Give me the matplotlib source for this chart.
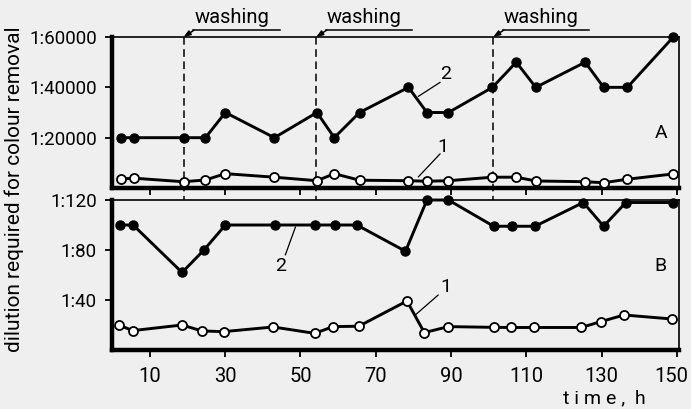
import matplotlib
matplotlib.use("Agg")
import matplotlib.pyplot as plt
import matplotlib.transforms as mtransforms

plt.rcParams['font.family'] = ['Roboto', 'DejaVu Sans']

# ---- data ----
hours_A = [2.3, 5.8, 19.0, 24.8, 30.1, 43.1, 54.4, 59.0, 65.7, 78.7, 83.6, 89.3,
           101.0, 107.3, 112.5, 125.6, 130.5, 136.8, 149.0]
A_curve2 = [20000, 20000, 20000, 20000, 30000, 20000, 30000, 20000, 30000, 40000,
            30000, 30000, 40000, 50000, 40000, 50000, 40000, 40000, 60000]
A_curve1 = [3600, 3900, 2500, 3200, 5700, 4300, 2900, 5700, 3100, 2900, 2700,
            2900, 4300, 4300, 2800, 2500, 2100, 3500, 5600]

hours_B = [2.1, 5.6, 18.6, 24.4, 30.1, 43.2, 53.8, 59.3, 65.0, 77.9, 83.6, 89.3,
           101.3, 106.2, 112.3, 125.1, 130.5, 136.4, 149.0]
B_curve2 = [100, 100, 62, 80, 100, 100, 100, 100, 100, 79, 120, 120, 99, 99, 99,
            118, 99, 118, 118]
hours_B1 = [1.8, 5.5, 18.6, 23.9, 29.7, 42.8, 53.8, 58.7, 65.5, 78.3, 82.9, 89.3,
            101.5, 106.0, 112.1, 124.5, 129.8, 135.9, 148.6]
B_curve1 = [20, 15.5, 20, 15.2, 14.7, 18.4, 13.3, 18.7, 19, 39.2, 13.9, 18.7, 18.1,
            18, 18, 18, 22.7, 28, 24.8]

washing_h = [19.0, 54.2, 101.2]
x_ticks = [10, 30, 50, 70, 90, 110, 130, 150]
A_ticks = [20000, 40000, 60000]
A_ticklabels = ['1:20000', '1:40000', '1:60000']
B_ticks = [40, 80, 120]
B_ticklabels = ['1:40', '1:80', '1:120']

BG = '#efefef'
fig = plt.figure(figsize=(6.91, 4.09), dpi=100, facecolor=BG)
axA = fig.add_axes([0.1621, 0.5403, 0.8205, 0.3692])
axB = fig.add_axes([0.1621, 0.1443, 0.8205, 0.3667])

FS = 13.5
for ax in (axA, axB):
    ax.set_facecolor(BG)
    ax.set_xlim(0, 150.5)
    ax.set_xticks(x_ticks)
    for s in ('left', 'bottom'):
        ax.spines[s].set_linewidth(3.2)
    for s in ('top', 'right'):
        ax.spines[s].set_linewidth(1.2)
    ax.tick_params(axis='both', direction='out', length=5, width=1.3,
                   labelsize=FS, pad=6)
    ax.tick_params(axis='x', labelsize=14.5, pad=7)

lw = 2.1
msz = 6.5
# panel A
axA.plot(hours_A, A_curve2, '-o', color='black', lw=lw, ms=msz, clip_on=False, zorder=3)
axA.plot(hours_A, A_curve1, '-o', color='black', lw=lw, ms=msz, mfc='white',
         mec='black', mew=1.3, clip_on=False, zorder=3)
axA.set_ylim(0, 60000)
axA.set_yticks(A_ticks)
axA.set_yticklabels(A_ticklabels)
axA.tick_params(axis='x', labelbottom=False)

# panel B
axB.plot(hours_B, B_curve2, '-o', color='black', lw=lw, ms=msz, clip_on=False, zorder=3)
axB.plot(hours_B1, B_curve1, '-o', color='black', lw=lw, ms=msz, mfc='white',
         mec='black', mew=1.3, clip_on=False, zorder=3)
axB.set_ylim(0, 120)
axB.set_yticks(B_ticks)
axB.set_yticklabels(B_ticklabels)
axB.set_xticklabels([str(t) for t in x_ticks])
last = axB.get_xticklabels()[-1]
last.set_transform(last.get_transform() +
                   mtransforms.ScaledTranslation(-6 / 100, 0, fig.dpi_scale_trans))

# washing lines
trA = mtransforms.blended_transform_factory(axA.transData, axA.transAxes)
bottom_frac = -(350 - 188) / 151.0
for w in washing_h:
    axA.plot([w, w], [1.0, bottom_frac], transform=trA, color='black', lw=1.1,
             ls=(0, (5, 3)), clip_on=False, zorder=2)
    axA.plot([w + 2.6, w + 25.5], [1.046, 1.046], transform=trA, color='black',
             lw=1.1, clip_on=False)
    axA.annotate('', xy=(w, 1.0), xycoords=trA, xytext=(w + 2.8, 1.046),
                 textcoords=trA,
                 arrowprops=dict(arrowstyle='-|>,head_length=0.4,head_width=0.15',
                                 color='black', lw=1.1, shrinkA=0, shrinkB=0))
    axA.text(w + 12.8, 1.13, 'washing', transform=trA, ha='center', va='center',
             fontsize=14.5)

# curve labels
ap = dict(arrowstyle='-', color='black', lw=0.9, shrinkA=0, shrinkB=0)
axA.text(88.5, 45200, '2', ha='center', va='center', fontsize=14)
axA.annotate('', xy=(81.3, 36400), xytext=(87.1, 42000), arrowprops=ap)
axA.text(87.9, 16400, '1', ha='center', va='center', fontsize=14)
axA.annotate('', xy=(81.3, 4400), xytext=(87.1, 13600), arrowprops=ap)
axA.text(0.968, 0.364, 'A', transform=axA.transAxes, ha='center', va='center',
         fontsize=14)

axB.text(44.7, 67.2, '2', ha='center', va='center', fontsize=14)
axB.annotate('', xy=(48.7, 98.4), xytext=(46.0, 76), arrowprops=ap)
axB.text(88.5, 50.4, '1', ha='center', va='center', fontsize=14)
axB.annotate('', xy=(80.5, 28), xytext=(86.6, 44), arrowprops=ap)
axB.text(0.968, 0.56, 'B', transform=axB.transAxes, ha='center', va='center',
         fontsize=14)

fig.text(604 / 691, 1 - 398 / 409, 't i m e ,  h', ha='center', va='center',
         fontsize=14)
fig.text(14 / 691, 1 - 189 / 409, 'dilution required for colour removal',
         rotation=90, ha='center', va='center', fontsize=15)

fig.savefig('out.png', dpi=100, facecolor=BG)
